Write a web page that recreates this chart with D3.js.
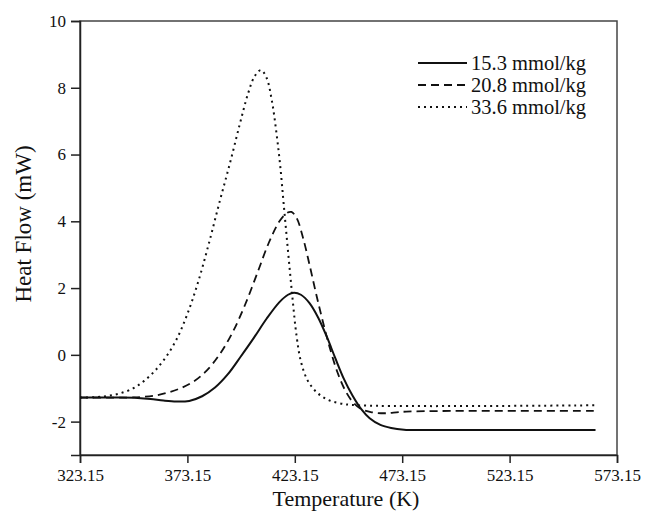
<!DOCTYPE html>
<html><head><meta charset="utf-8">
<script src="https://cdn.jsdelivr.net/npm/d3@7"></script>
<style>body{margin:0;background:#fff}svg{display:block}text{font-family:"Liberation Serif","Times New Roman",serif;fill:#111}</style>
</head><body><svg id="c" width="645" height="512"></svg>
<script>
const xTicks = [323.15, 373.15, 423.15, 473.15, 523.15, 573.15];
const yTicks = [-2, 0, 2, 4, 6, 8, 10];
const seriesNames = ["15.3 mmol/kg", "20.8 mmol/kg", "33.6 mmol/kg"];
const tempSolid = [323.15,340,350,356,362,368,374,380,386,392,398,404,410,416,420,422.8,426,430,434,438,442,446,450,454,458,463,468,474,482,500,563.15];
const heatSolid = [-1.28,-1.28,-1.29,-1.32,-1.37,-1.40,-1.38,-1.24,-0.98,-0.58,-0.05,0.50,1.08,1.58,1.80,1.86,1.80,1.55,1.12,0.55,-0.10,-0.72,-1.22,-1.62,-1.90,-2.10,-2.19,-2.24,-2.25,-2.25,-2.25];
const tempDashed = [323.15,345,352,358,364,370,376,382,388,394,400,406,411,416,419.5,421.6,424,427,430,433,436,439.5,443,446.5,450,454,459,465,475,563.15];
const heatDashed = [-1.28,-1.28,-1.26,-1.22,-1.13,-1.00,-0.80,-0.48,0.00,0.65,1.50,2.50,3.35,4.00,4.25,4.28,4.10,3.50,2.70,1.85,1.05,0.20,-0.52,-1.05,-1.40,-1.62,-1.72,-1.75,-1.70,-1.68];
const tempDotted = [323.15,330,336,342,348,353,358,363,368,373,378,383,388,393,397.5,401.5,404.5,407.4,410,412.5,414.5,416.3,418,420,422,424,426,429,433,438,444,452,563.15];
const heatDotted = [-1.28,-1.27,-1.23,-1.15,-1.00,-0.78,-0.48,-0.08,0.45,1.20,2.15,3.30,4.55,5.75,6.90,7.85,8.35,8.53,8.30,7.60,6.70,5.70,4.50,3.10,1.75,0.55,-0.20,-0.75,-1.10,-1.33,-1.45,-1.51,-1.51];

const svg = d3.select("#c");
const L = 80, R = 617, T = 21, B = 455;
const x = d3.scaleLinear().domain([323.15, 573.15]).range([L, R]);
const y = d3.scaleLinear().domain([-3, 10]).range([B, T]);

svg.append("rect").attr("x", L).attr("y", T).attr("width", R - L).attr("height", B - T)
  .attr("fill", "none").attr("stroke", "#444").attr("stroke-width", 1.5);

const xa = svg.append("g").attr("transform", `translate(0,${B})`)
  .call(d3.axisBottom(x).tickValues(xTicks).tickFormat(d => d.toFixed(2)).tickSize(8).tickPadding(6));
const ya = svg.append("g").attr("transform", `translate(${L},0)`)
  .call(d3.axisLeft(y).tickValues(yTicks).tickFormat(d => String(d)).tickSize(9).tickPadding(5));
[xa, ya].forEach(g => {
  g.attr("font-family", null);
  g.select(".domain").attr("stroke", "#222").attr("stroke-width", 1.5);
  g.selectAll(".tick line").attr("stroke", "#222").attr("stroke-width", 1.5);
  g.selectAll("text").attr("font-size", 17).attr("fill", "#111").style("font-family", '"Liberation Serif",serif');
});

svg.append("text").attr("x", 346).attr("y", 506).attr("text-anchor", "middle")
  .attr("font-size", 22).text("Temperature (K)");
svg.append("text").attr("transform", "translate(31,224) rotate(-90)").attr("text-anchor", "middle")
  .attr("font-size", 23).text("Heat Flow (mW)");

const styles = [
  {dash: null, w: 2},
  {dash: "8,5", w: 1.8},
  {dash: "2,4", w: 2}
];
const sets = [[tempSolid, heatSolid], [tempDashed, heatDashed], [tempDotted, heatDotted]];
const line = d3.line().x(d => x(d[0])).y(d => y(d[1])).curve(d3.curveCatmullRom.alpha(0.5));
sets.forEach((s, i) => {
  const pts = s[0].map((t, j) => [t, s[1][j]]);
  svg.append("path").attr("d", line(pts)).attr("fill", "none").attr("stroke", "#111")
    .attr("stroke-width", styles[i].w).attr("stroke-dasharray", styles[i].dash);
});

const lg = svg.append("g");
seriesNames.forEach((n, i) => {
  const yy = 63 + i * 22;
  lg.append("line").attr("x1", 418).attr("x2", 467).attr("y1", yy).attr("y2", yy)
    .attr("stroke", "#111").attr("stroke-width", styles[i].w).attr("stroke-dasharray", styles[i].dash);
  lg.append("text").attr("x", 471).attr("y", yy + 6.5).attr("font-size", 20.5).text(n);
});
</script></body></html>
